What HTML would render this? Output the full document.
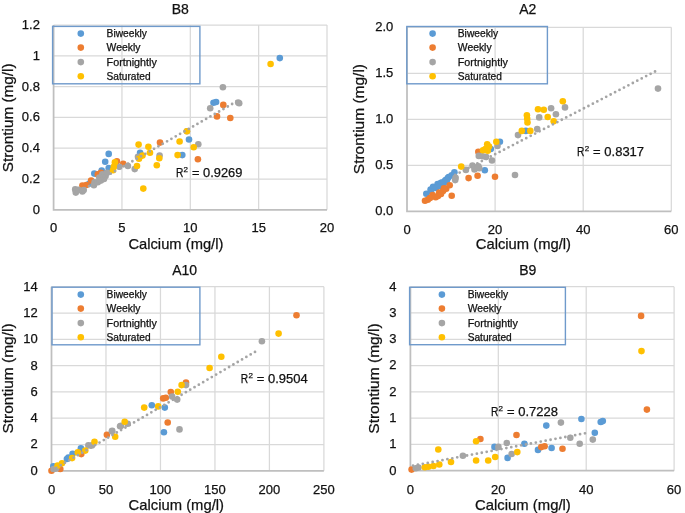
<!DOCTYPE html><html><head><meta charset="utf-8"><style>html,body{margin:0;padding:0;background:#fff;width:685px;height:513px;overflow:hidden}svg{display:block;will-change:transform;filter:blur(0.3px)}text{font-family:"Liberation Sans", sans-serif;fill:#111111;stroke:#111;stroke-width:0.25px}</style></head><body>
<svg width="685" height="513" viewBox="0 0 685 513">
<rect width="685" height="513" fill="#fff"/>
<path d="M53.6 179H327M53.6 148.2H327M53.6 117.4H327M53.6 86.6H327M53.6 55.8H327M53.6 25H327M121.95 209.8V25M190.3 209.8V25M258.65 209.8V25M327 209.8V25" stroke="#D9D9D9" stroke-width="1.25" fill="none"/>
<path d="M53.6 25V209.8H327" stroke="#BFBFBF" stroke-width="1.75" fill="none"/>
<text x="39.9" y="213.7" font-size="13" text-anchor="end">0</text>
<text x="39.9" y="182.9" font-size="13" text-anchor="end">0.2</text>
<text x="39.9" y="152.1" font-size="13" text-anchor="end">0.4</text>
<text x="39.9" y="121.3" font-size="13" text-anchor="end">0.6</text>
<text x="39.9" y="90.5" font-size="13" text-anchor="end">0.8</text>
<text x="39.9" y="59.7" font-size="13" text-anchor="end">1</text>
<text x="39.9" y="28.9" font-size="13" text-anchor="end">1.2</text>
<text x="53.6" y="232.1" font-size="13" text-anchor="middle">0</text>
<text x="121.95" y="232.1" font-size="13" text-anchor="middle">5</text>
<text x="190.3" y="232.1" font-size="13" text-anchor="middle">10</text>
<text x="258.65" y="232.1" font-size="13" text-anchor="middle">15</text>
<text x="327" y="232.1" font-size="13" text-anchor="middle">20</text>
<text x="180.3" y="14" font-size="14" text-anchor="middle">B8</text>
<text transform="translate(12.5 172.2) rotate(-90)" font-size="15" textLength="108.8" lengthAdjust="spacingAndGlyphs">Strontium (mg/l)</text>
<text x="128.4" y="249" font-size="15" textLength="95" lengthAdjust="spacingAndGlyphs">Calcium (mg/l)</text>
<rect x="52.6" y="26.4" width="147.3" height="57.4" fill="none" stroke="#6F9ACB" stroke-width="1.4"/>
<circle cx="80.8" cy="33.6" r="3.3" fill="#5B9BD5"/>
<text x="106.6" y="37" font-size="10" textLength="40.4" lengthAdjust="spacingAndGlyphs">Biweekly</text>
<circle cx="80.8" cy="47.6" r="3.3" fill="#ED7D31"/>
<text x="106.6" y="51" font-size="10" textLength="33.8" lengthAdjust="spacingAndGlyphs">Weekly</text>
<circle cx="80.8" cy="62.1" r="3.3" fill="#A5A5A5"/>
<text x="106.6" y="65.5" font-size="10" textLength="50.2" lengthAdjust="spacingAndGlyphs">Fortnightly</text>
<circle cx="80.8" cy="76.3" r="3.3" fill="#FFC000"/>
<text x="106.6" y="79.7" font-size="10" textLength="44.0" lengthAdjust="spacingAndGlyphs">Saturated</text>
<g fill="#5B9BD5"><circle cx="108.7" cy="153.9" r="3.3"/><circle cx="105.2" cy="161.8" r="3.3"/><circle cx="109.1" cy="169.1" r="3.3"/><circle cx="101.7" cy="170.5" r="3.3"/><circle cx="94.3" cy="173.6" r="3.3"/><circle cx="89.2" cy="183.7" r="3.3"/><circle cx="140.1" cy="152.8" r="3.3"/><circle cx="182.3" cy="155.1" r="3.3"/><circle cx="189" cy="139.5" r="3.3"/><circle cx="213.5" cy="102.8" r="3.3"/><circle cx="216.1" cy="102" r="3.3"/><circle cx="279.8" cy="58.1" r="3.3"/><circle cx="108.7" cy="168.1" r="3.3"/></g>
<g fill="#ED7D31"><circle cx="116.9" cy="161.3" r="3.3"/><circle cx="123.2" cy="163.7" r="3.3"/><circle cx="97.8" cy="174.4" r="3.3"/><circle cx="100.9" cy="172.8" r="3.3"/><circle cx="91.1" cy="180.6" r="3.3"/><circle cx="82.4" cy="185.5" r="3.3"/><circle cx="86.3" cy="185" r="3.3"/><circle cx="160" cy="142.6" r="3.3"/><circle cx="197.9" cy="159.3" r="3.3"/><circle cx="223.3" cy="104.9" r="3.3"/><circle cx="217" cy="116.4" r="3.3"/><circle cx="230.3" cy="118" r="3.3"/></g>
<g fill="#A5A5A5"><circle cx="119.3" cy="166.8" r="3.3"/><circle cx="127.9" cy="166" r="3.3"/><circle cx="75.2" cy="189.4" r="3.3"/><circle cx="75.8" cy="192.6" r="3.3"/><circle cx="78.4" cy="189.9" r="3.3"/><circle cx="82.4" cy="191.4" r="3.3"/><circle cx="83.7" cy="190" r="3.3"/><circle cx="93.9" cy="185.3" r="3.3"/><circle cx="94.6" cy="182.2" r="3.3"/><circle cx="97.8" cy="182.2" r="3.3"/><circle cx="100.9" cy="180.6" r="3.3"/><circle cx="104" cy="179" r="3.3"/><circle cx="105.6" cy="175.9" r="3.3"/><circle cx="102.4" cy="174.4" r="3.3"/><circle cx="99.3" cy="177.5" r="3.3"/><circle cx="107.1" cy="172.8" r="3.3"/><circle cx="134.7" cy="169.1" r="3.3"/><circle cx="138" cy="156.7" r="3.3"/><circle cx="159.6" cy="155.6" r="3.3"/><circle cx="198.3" cy="144.2" r="3.3"/><circle cx="186.9" cy="131.2" r="3.3"/><circle cx="222.9" cy="87.2" r="3.3"/><circle cx="210.2" cy="108.2" r="3.3"/><circle cx="239.2" cy="103.3" r="3.3"/><circle cx="238.2" cy="102.5" r="3.3"/></g>
<g fill="#FFC000"><circle cx="114.9" cy="162.4" r="3.3"/><circle cx="113.8" cy="166.8" r="3.3"/><circle cx="113" cy="170.2" r="3.3"/><circle cx="138.6" cy="144.6" r="3.3"/><circle cx="148.4" cy="146.8" r="3.3"/><circle cx="150" cy="152.8" r="3.3"/><circle cx="142.5" cy="155.6" r="3.3"/><circle cx="139" cy="158.7" r="3.3"/><circle cx="137" cy="166" r="3.3"/><circle cx="159.3" cy="158.2" r="3.3"/><circle cx="156.8" cy="165.2" r="3.3"/><circle cx="179.6" cy="141.5" r="3.3"/><circle cx="177.6" cy="155.1" r="3.3"/><circle cx="186.9" cy="131.2" r="3.3"/><circle cx="193.7" cy="147.3" r="3.3"/><circle cx="143.3" cy="188.6" r="3.3"/><circle cx="270.6" cy="64" r="3.3"/></g>
<path d="M76 193.6L236.5 101.5" stroke="#A5A5A5" stroke-width="2.8" stroke-dasharray="0 5.0" stroke-linecap="round" fill="none"/>
<text x="176" y="177.3" font-size="12.5" textLength="7.4" lengthAdjust="spacingAndGlyphs">R</text>
<text x="183.6" y="172.3" font-size="8">2</text>
<text x="192" y="177.3" font-size="12.5" textLength="50.4" lengthAdjust="spacingAndGlyphs">= 0.9269</text>
<path d="M407 165.3H671.3M407 119.3H671.3M407 73.3H671.3M407 27.3H671.3M495.1 211.3V27.3M583.2 211.3V27.3M671.3 211.3V27.3" stroke="#D9D9D9" stroke-width="1.25" fill="none"/>
<path d="M407 27.3V211.3H671.3" stroke="#BFBFBF" stroke-width="1.75" fill="none"/>
<text x="393.3" y="215.2" font-size="13" text-anchor="end">0.0</text>
<text x="393.3" y="169.2" font-size="13" text-anchor="end">0.5</text>
<text x="393.3" y="123.2" font-size="13" text-anchor="end">1.0</text>
<text x="393.3" y="77.2" font-size="13" text-anchor="end">1.5</text>
<text x="393.3" y="31.2" font-size="13" text-anchor="end">2.0</text>
<text x="407" y="234.3" font-size="13" text-anchor="middle">0</text>
<text x="495.1" y="234.3" font-size="13" text-anchor="middle">20</text>
<text x="583.2" y="234.3" font-size="13" text-anchor="middle">40</text>
<text x="671.3" y="234.3" font-size="13" text-anchor="middle">60</text>
<text x="527.7" y="13.7" font-size="14" text-anchor="middle">A2</text>
<text transform="translate(364.3 174.2) rotate(-90)" font-size="15" textLength="110.2" lengthAdjust="spacingAndGlyphs">Strontium (mg/l)</text>
<text x="475.8" y="249" font-size="15" textLength="95.2" lengthAdjust="spacingAndGlyphs">Calcium (mg/l)</text>
<rect x="406.8" y="26.5" width="140.6" height="57.3" fill="none" stroke="#6F9ACB" stroke-width="1.4"/>
<circle cx="432.6" cy="33.6" r="3.3" fill="#5B9BD5"/>
<text x="457.8" y="37" font-size="10" textLength="40.4" lengthAdjust="spacingAndGlyphs">Biweekly</text>
<circle cx="432.6" cy="47.6" r="3.3" fill="#ED7D31"/>
<text x="457.8" y="51" font-size="10" textLength="33.8" lengthAdjust="spacingAndGlyphs">Weekly</text>
<circle cx="432.6" cy="62.1" r="3.3" fill="#A5A5A5"/>
<text x="457.8" y="65.5" font-size="10" textLength="50.2" lengthAdjust="spacingAndGlyphs">Fortnightly</text>
<circle cx="432.6" cy="76.3" r="3.3" fill="#FFC000"/>
<text x="457.8" y="79.7" font-size="10" textLength="44.0" lengthAdjust="spacingAndGlyphs">Saturated</text>
<g fill="#5B9BD5"><circle cx="426.3" cy="193.8" r="3.3"/><circle cx="430.6" cy="189.5" r="3.3"/><circle cx="434.5" cy="187.2" r="3.3"/><circle cx="437.6" cy="184" r="3.3"/><circle cx="440.7" cy="183" r="3.3"/><circle cx="444.6" cy="181.3" r="3.3"/><circle cx="447.8" cy="178" r="3.3"/><circle cx="451.7" cy="175.3" r="3.3"/><circle cx="454.4" cy="172.3" r="3.3"/><circle cx="433.1" cy="186.7" r="3.3"/><circle cx="441.7" cy="182.5" r="3.3"/><circle cx="445.6" cy="180" r="3.3"/><circle cx="448.7" cy="177" r="3.3"/><circle cx="436" cy="188" r="3.3"/><circle cx="440" cy="186" r="3.3"/><circle cx="444" cy="183" r="3.3"/><circle cx="447" cy="180" r="3.3"/><circle cx="431" cy="191.5" r="3.3"/><circle cx="484.8" cy="170.2" r="3.3"/><circle cx="490.8" cy="149" r="3.3"/><circle cx="499.9" cy="141.8" r="3.3"/><circle cx="525.8" cy="130.9" r="3.3"/></g>
<g fill="#ED7D31"><circle cx="425" cy="200.8" r="3.3"/><circle cx="427.8" cy="199.8" r="3.3"/><circle cx="432.6" cy="195" r="3.3"/><circle cx="435.7" cy="197.3" r="3.3"/><circle cx="439.2" cy="192.6" r="3.3"/><circle cx="443.1" cy="191.1" r="3.3"/><circle cx="446.2" cy="188.7" r="3.3"/><circle cx="449.7" cy="185.2" r="3.3"/><circle cx="451.7" cy="195.7" r="3.3"/><circle cx="444" cy="188.2" r="3.3"/><circle cx="430" cy="198" r="3.3"/><circle cx="438" cy="196" r="3.3"/><circle cx="441" cy="194" r="3.3"/><circle cx="468.6" cy="178.1" r="3.3"/><circle cx="477.6" cy="175.7" r="3.3"/><circle cx="495" cy="176.8" r="3.3"/><circle cx="478.3" cy="151.8" r="3.3"/></g>
<g fill="#A5A5A5"><circle cx="455.2" cy="180.1" r="3.3"/><circle cx="455.6" cy="177.8" r="3.3"/><circle cx="465.9" cy="169.9" r="3.3"/><circle cx="472.5" cy="165.5" r="3.3"/><circle cx="474.9" cy="167.6" r="3.3"/><circle cx="478.4" cy="166.4" r="3.3"/><circle cx="478.8" cy="155.9" r="3.3"/><circle cx="474.5" cy="169.5" r="3.3"/><circle cx="482.4" cy="156.3" r="3.3"/><circle cx="486" cy="156.9" r="3.3"/><circle cx="492" cy="160.5" r="3.3"/><circle cx="497.5" cy="146" r="3.3"/><circle cx="515" cy="175" r="3.3"/><circle cx="518" cy="135.1" r="3.3"/><circle cx="537.2" cy="129.1" r="3.3"/><circle cx="539.2" cy="117.4" r="3.3"/><circle cx="551.1" cy="108.2" r="3.3"/><circle cx="555.9" cy="114.2" r="3.3"/><circle cx="565" cy="107.4" r="3.3"/><circle cx="658" cy="88.6" r="3.3"/><circle cx="479.3" cy="168.3" r="3.3"/></g>
<g fill="#FFC000"><circle cx="461.2" cy="166.6" r="3.3"/><circle cx="483" cy="150.2" r="3.3"/><circle cx="487.2" cy="144.2" r="3.3"/><circle cx="489" cy="146.6" r="3.3"/><circle cx="487.8" cy="150.8" r="3.3"/><circle cx="485.4" cy="149" r="3.3"/><circle cx="496.3" cy="141.8" r="3.3"/><circle cx="526.9" cy="115.2" r="3.3"/><circle cx="527.2" cy="118.8" r="3.3"/><circle cx="527.5" cy="122.5" r="3.3"/><circle cx="521.8" cy="130.9" r="3.3"/><circle cx="530.3" cy="130.9" r="3.3"/><circle cx="538" cy="109.2" r="3.3"/><circle cx="543.8" cy="109.8" r="3.3"/><circle cx="547.7" cy="117" r="3.3"/><circle cx="553.7" cy="121.3" r="3.3"/><circle cx="562.8" cy="101.3" r="3.3"/></g>
<path d="M455.2 174.9L657 70.5" stroke="#A5A5A5" stroke-width="2.8" stroke-dasharray="0 5.0" stroke-linecap="round" fill="none"/>
<text x="577.1" y="156" font-size="12.5" textLength="7.4" lengthAdjust="spacingAndGlyphs">R</text>
<text x="584.7" y="151" font-size="8">2</text>
<text x="593.1" y="156" font-size="12.5" textLength="51" lengthAdjust="spacingAndGlyphs">= 0.8317</text>
<path d="M51.5 444.5H323.9M51.5 418.2H323.9M51.5 391.9H323.9M51.5 365.6H323.9M51.5 339.3H323.9M51.5 313H323.9M51.5 286.7H323.9M105.98 470.8V286.7M160.46 470.8V286.7M214.94 470.8V286.7M269.42 470.8V286.7M323.9 470.8V286.7" stroke="#D9D9D9" stroke-width="1.25" fill="none"/>
<path d="M51.5 286.7V470.8H323.9" stroke="#BFBFBF" stroke-width="1.75" fill="none"/>
<text x="37.7" y="474.7" font-size="13" text-anchor="end">0</text>
<text x="37.7" y="448.4" font-size="13" text-anchor="end">2</text>
<text x="37.7" y="422.1" font-size="13" text-anchor="end">4</text>
<text x="37.7" y="395.8" font-size="13" text-anchor="end">6</text>
<text x="37.7" y="369.5" font-size="13" text-anchor="end">8</text>
<text x="37.7" y="343.2" font-size="13" text-anchor="end">10</text>
<text x="37.7" y="316.9" font-size="13" text-anchor="end">12</text>
<text x="37.7" y="290.6" font-size="13" text-anchor="end">14</text>
<text x="51.5" y="493.9" font-size="13" text-anchor="middle">0</text>
<text x="105.98" y="493.9" font-size="13" text-anchor="middle">50</text>
<text x="160.46" y="493.9" font-size="13" text-anchor="middle">100</text>
<text x="214.94" y="493.9" font-size="13" text-anchor="middle">150</text>
<text x="269.42" y="493.9" font-size="13" text-anchor="middle">200</text>
<text x="323.9" y="493.9" font-size="13" text-anchor="middle">250</text>
<text x="184.7" y="274.9" font-size="14" text-anchor="middle">A10</text>
<text transform="translate(12.9 433.6) rotate(-90)" font-size="15" textLength="110.2" lengthAdjust="spacingAndGlyphs">Strontium (mg/l)</text>
<text x="128.6" y="510.2" font-size="15" textLength="95.4" lengthAdjust="spacingAndGlyphs">Calcium (mg/l)</text>
<rect x="52" y="287.2" width="147.9" height="57.6" fill="none" stroke="#6F9ACB" stroke-width="1.4"/>
<circle cx="80.8" cy="294.6" r="3.3" fill="#5B9BD5"/>
<text x="106.6" y="298" font-size="10" textLength="40.4" lengthAdjust="spacingAndGlyphs">Biweekly</text>
<circle cx="80.8" cy="308.6" r="3.3" fill="#ED7D31"/>
<text x="106.6" y="312" font-size="10" textLength="33.8" lengthAdjust="spacingAndGlyphs">Weekly</text>
<circle cx="80.8" cy="323.1" r="3.3" fill="#A5A5A5"/>
<text x="106.6" y="326.5" font-size="10" textLength="50.2" lengthAdjust="spacingAndGlyphs">Fortnightly</text>
<circle cx="80.8" cy="337.3" r="3.3" fill="#FFC000"/>
<text x="106.6" y="340.7" font-size="10" textLength="44.0" lengthAdjust="spacingAndGlyphs">Saturated</text>
<g fill="#5B9BD5"><circle cx="53.3" cy="466.4" r="3.3"/><circle cx="66.9" cy="459" r="3.3"/><circle cx="68.4" cy="457.5" r="3.3"/><circle cx="72.6" cy="453.7" r="3.3"/><circle cx="80.9" cy="448.4" r="3.3"/><circle cx="151.8" cy="405.3" r="3.3"/><circle cx="164.8" cy="407.6" r="3.3"/><circle cx="163.9" cy="432.2" r="3.3"/></g>
<g fill="#ED7D31"><circle cx="51.5" cy="470.8" r="3.3"/><circle cx="60.3" cy="469" r="3.3"/><circle cx="81.3" cy="454.1" r="3.3"/><circle cx="106.9" cy="434.7" r="3.3"/><circle cx="163.2" cy="398.4" r="3.3"/><circle cx="165.8" cy="397.7" r="3.3"/><circle cx="170.8" cy="392" r="3.3"/><circle cx="186" cy="382.5" r="3.3"/><circle cx="167.7" cy="422.5" r="3.3"/><circle cx="296.5" cy="315.2" r="3.3"/></g>
<g fill="#A5A5A5"><circle cx="53.7" cy="469" r="3.3"/><circle cx="56" cy="468.5" r="3.3"/><circle cx="88.4" cy="445.4" r="3.3"/><circle cx="91.9" cy="445.4" r="3.3"/><circle cx="112.2" cy="430.9" r="3.3"/><circle cx="121" cy="425.8" r="3.3"/><circle cx="111.9" cy="431.3" r="3.3"/><circle cx="120.1" cy="426.3" r="3.3"/><circle cx="127.7" cy="423.7" r="3.3"/><circle cx="172.1" cy="396.5" r="3.3"/><circle cx="177.2" cy="399.6" r="3.3"/><circle cx="186" cy="385.1" r="3.3"/><circle cx="179.5" cy="429.4" r="3.3"/><circle cx="261.9" cy="341.2" r="3.3"/></g>
<g fill="#FFC000"><circle cx="57.6" cy="465.5" r="3.3"/><circle cx="62" cy="463.3" r="3.3"/><circle cx="72.1" cy="458.1" r="3.3"/><circle cx="77.8" cy="452.4" r="3.3"/><circle cx="85.3" cy="450.6" r="3.3"/><circle cx="94.5" cy="441.8" r="3.3"/><circle cx="115.2" cy="436.7" r="3.3"/><circle cx="124.7" cy="421.8" r="3.3"/><circle cx="144.2" cy="407.6" r="3.3"/><circle cx="158.2" cy="406.4" r="3.3"/><circle cx="177.8" cy="391.7" r="3.3"/><circle cx="181.6" cy="385.1" r="3.3"/><circle cx="209.6" cy="368" r="3.3"/><circle cx="221.3" cy="356.8" r="3.3"/><circle cx="278.6" cy="333.6" r="3.3"/></g>
<path d="M52 470.3L258.1 350.1" stroke="#A5A5A5" stroke-width="2.8" stroke-dasharray="0 5.0" stroke-linecap="round" fill="none"/>
<text x="240.8" y="383.2" font-size="12.5" textLength="7.4" lengthAdjust="spacingAndGlyphs">R</text>
<text x="248.4" y="378.2" font-size="8">2</text>
<text x="256.8" y="383.2" font-size="12.5" textLength="51" lengthAdjust="spacingAndGlyphs">= 0.9504</text>
<path d="M410.4 444.41H674.1M410.4 418.13H674.1M410.4 391.84H674.1M410.4 365.56H674.1M410.4 339.27H674.1M410.4 312.99H674.1M410.4 286.7H674.1M498.3 470.7V286.7M586.2 470.7V286.7M674.1 470.7V286.7" stroke="#D9D9D9" stroke-width="1.25" fill="none"/>
<path d="M410.4 286.7V470.7H674.1" stroke="#BFBFBF" stroke-width="1.75" fill="none"/>
<text x="396.4" y="474.6" font-size="13" text-anchor="end">0</text>
<text x="396.4" y="448.31" font-size="13" text-anchor="end">1</text>
<text x="396.4" y="422.03" font-size="13" text-anchor="end">1</text>
<text x="396.4" y="395.74" font-size="13" text-anchor="end">2</text>
<text x="396.4" y="369.46" font-size="13" text-anchor="end">2</text>
<text x="396.4" y="343.17" font-size="13" text-anchor="end">3</text>
<text x="396.4" y="316.89" font-size="13" text-anchor="end">3</text>
<text x="396.4" y="290.6" font-size="13" text-anchor="end">4</text>
<text x="410.4" y="493.6" font-size="13" text-anchor="middle">0</text>
<text x="498.3" y="493.6" font-size="13" text-anchor="middle">20</text>
<text x="586.2" y="493.6" font-size="13" text-anchor="middle">40</text>
<text x="674.1" y="493.6" font-size="13" text-anchor="middle">60</text>
<text x="527.7" y="274.9" font-size="14" text-anchor="middle">B9</text>
<text transform="translate(378.9 433.7) rotate(-90)" font-size="15" textLength="110.3" lengthAdjust="spacingAndGlyphs">Strontium (mg/l)</text>
<text x="475" y="510.2" font-size="15" textLength="95.8" lengthAdjust="spacingAndGlyphs">Calcium (mg/l)</text>
<rect x="409.6" y="287.3" width="155.8" height="57.4" fill="none" stroke="#6F9ACB" stroke-width="1.4"/>
<circle cx="441.9" cy="294.6" r="3.3" fill="#5B9BD5"/>
<text x="467.7" y="298" font-size="10" textLength="40.4" lengthAdjust="spacingAndGlyphs">Biweekly</text>
<circle cx="441.9" cy="308.6" r="3.3" fill="#ED7D31"/>
<text x="467.7" y="312" font-size="10" textLength="33.8" lengthAdjust="spacingAndGlyphs">Weekly</text>
<circle cx="441.9" cy="323.1" r="3.3" fill="#A5A5A5"/>
<text x="467.7" y="326.5" font-size="10" textLength="50.2" lengthAdjust="spacingAndGlyphs">Fortnightly</text>
<circle cx="441.9" cy="337.3" r="3.3" fill="#FFC000"/>
<text x="467.7" y="340.7" font-size="10" textLength="44.0" lengthAdjust="spacingAndGlyphs">Saturated</text>
<g fill="#5B9BD5"><circle cx="494.5" cy="446.9" r="3.3"/><circle cx="507.6" cy="457.9" r="3.3"/><circle cx="524.4" cy="443.8" r="3.3"/><circle cx="538" cy="449.9" r="3.3"/><circle cx="551.6" cy="448" r="3.3"/><circle cx="546.3" cy="425.6" r="3.3"/><circle cx="581.4" cy="419" r="3.3"/><circle cx="600.7" cy="422" r="3.3"/><circle cx="602.8" cy="421.1" r="3.3"/><circle cx="594.8" cy="432.8" r="3.3"/></g>
<g fill="#ED7D31"><circle cx="411.6" cy="469.6" r="3.3"/><circle cx="480.4" cy="439" r="3.3"/><circle cx="516.5" cy="435" r="3.3"/><circle cx="541.3" cy="447.1" r="3.3"/><circle cx="544.6" cy="446.3" r="3.3"/><circle cx="562.5" cy="448.8" r="3.3"/><circle cx="641.1" cy="315.9" r="3.3"/><circle cx="646.9" cy="409.6" r="3.3"/></g>
<g fill="#A5A5A5"><circle cx="415.8" cy="468.3" r="3.3"/><circle cx="418.4" cy="467.5" r="3.3"/><circle cx="462.9" cy="455.7" r="3.3"/><circle cx="498.4" cy="446.9" r="3.3"/><circle cx="506.8" cy="443" r="3.3"/><circle cx="511.6" cy="454" r="3.3"/><circle cx="560.9" cy="422.6" r="3.3"/><circle cx="570.3" cy="437.7" r="3.3"/><circle cx="579.7" cy="443.8" r="3.3"/><circle cx="592.8" cy="439.6" r="3.3"/></g>
<g fill="#FFC000"><circle cx="424.8" cy="467.2" r="3.3"/><circle cx="428.4" cy="466.7" r="3.3"/><circle cx="433.5" cy="466" r="3.3"/><circle cx="439.3" cy="464.5" r="3.3"/><circle cx="451" cy="462" r="3.3"/><circle cx="438.3" cy="449.5" r="3.3"/><circle cx="476.1" cy="441.2" r="3.3"/><circle cx="476.1" cy="460.5" r="3.3"/><circle cx="488.2" cy="460.5" r="3.3"/><circle cx="495.2" cy="457" r="3.3"/><circle cx="517.3" cy="452.1" r="3.3"/><circle cx="641.5" cy="351.1" r="3.3"/></g>
<path d="M413 465.7L588.1 432.7" stroke="#A5A5A5" stroke-width="2.8" stroke-dasharray="0 5.0" stroke-linecap="round" fill="none"/>
<text x="491" y="415.6" font-size="12.5" textLength="7.4" lengthAdjust="spacingAndGlyphs">R</text>
<text x="498.6" y="410.6" font-size="8">2</text>
<text x="507" y="415.6" font-size="12.5" textLength="51" lengthAdjust="spacingAndGlyphs">= 0.7228</text>
</svg></body></html>
